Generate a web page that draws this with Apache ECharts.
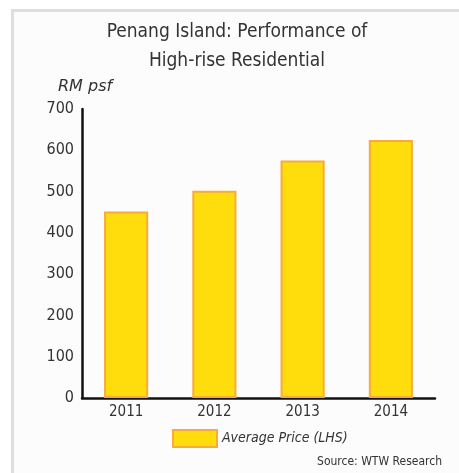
<!DOCTYPE html>
<html>
<head>
<meta charset="utf-8">
<script src="https://cdn.jsdelivr.net/npm/echarts@6/dist/echarts.min.js"></script>
<style>
  body { margin: 0; background: #fff; }
  #frame { position: absolute; left: 11px; top: 9px; width: 448px; height: 464px;
           border-left: 3px solid #dedede; border-top: 3px solid #dedede; background: #fcfcfc; }
  #main { position: absolute; left: 0; top: 0; width: 459px; height: 473px; }
</style>
</head>
<body>
<div id="frame"></div>
<div id="main"></div>
<script>
var years = ['2011', '2012', '2013', '2014'];
var avgPrice = [452, 502, 575, 625];
var seriesName = 'Average Price (LHS)';

var font = "'DejaVu Sans Condensed', 'Liberation Sans Narrow', sans-serif";

var myChart = echarts.init(document.getElementById('main'));

var option = {
  backgroundColor: 'transparent',
  title: {
    text: 'Penang Island: Performance of\nHigh-rise Residential',
    left: 232,
    textAlign: 'center',
    top: 13,
    textStyle: { fontFamily: font, fontSize: 19, fontWeight: 'normal', color: '#333', lineHeight: 29 }
  },
  legend: {
    data: [seriesName],
    left: 167,
    top: 424,
    icon: 'rect',
    itemWidth: 44,
    itemHeight: 17,
    itemGap: 9,
    textStyle: { fontFamily: font, fontSize: 14, fontStyle: 'italic', color: '#333' }
  },
  grid: { left: 82, right: 24, top: 109, bottom: 75 },
  xAxis: {
    type: 'category',
    data: years,
    axisLine: { lineStyle: { color: '#111', width: 2.5 } },
    axisTick: { show: false },
    axisLabel: { fontFamily: font, fontSize: 15, color: '#333', margin: 7 }
  },
  yAxis: {
    type: 'value',
    min: 0,
    max: 700,
    interval: 100,
    axisLine: { show: true, lineStyle: { color: '#111', width: 2.5 } },
    axisTick: { show: false },
    splitLine: { show: false },
    axisLabel: { fontFamily: font, fontSize: 16, color: '#333', margin: 8 }
  },
  graphic: [
    {
      type: 'text', left: 58, top: 79,
      style: { text: 'RM psf', font: "italic 16px 'DejaVu Sans', sans-serif", fill: '#333' }
    },
    {
      type: 'text', right: 17, top: 456,
      style: { text: 'Source: WTW Research', font: '12px ' + font, fill: '#333' }
    }
  ],
  series: [
    {
      name: seriesName,
      type: 'bar',
      data: avgPrice,
      barWidth: '50%',
      itemStyle: { color: '#FFDD0C', borderColor: '#F8AA3A', borderWidth: 2 }
    }
  ]
};

myChart.setOption(option);
</script>
</body>
</html>
